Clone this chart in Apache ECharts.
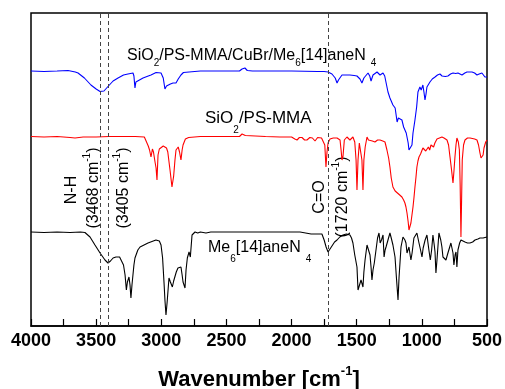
<!DOCTYPE html>
<html>
<head>
<meta charset="utf-8">
<script src="https://cdn.jsdelivr.net/npm/echarts@6/dist/echarts.min.js"></script>
<style>html,body{margin:0;padding:0;background:#fff}#c{width:505px;height:389px}</style>
</head>
<body>
<div id="c"></div>
<script>
// Wavenumber (cm^-1) and offset transmittance (a.u.)
const blueWn = [4000,3900,3800,3716,3660,3639,3590,3540,3500,3470,3455,3440,3409,3370,3332,3290,3256,3217,3210,3202,3195,3180,3140,3100,3079,3040,3025,3002,2985,2972,2960,2948,2930,2910,2895,2887,2870,2849,2830,2818,2700,2500,2400,2380,2373,2365,2358,2350,2340,2300,2000,1800,1750,1720,1690,1665,1651,1640,1613,1580,1552,1520,1498,1475,1460,1445,1430,1413,1400,1390,1375,1360,1344,1330,1321,1310,1298,1285,1275,1260,1245,1222,1205,1199,1190,1180,1165,1153,1140,1120,1114,1105,1099,1090,1076,1068,1053,1040,1030,1015,1005,992,983,976,968,961,938,920,899,880,861,845,838,820,800,780,761,740,723,710,692,670,654,635,615,595,577,560,539,525,516,500];
const blueT  = [255,254.5,255,255.5,254,253,248,241,237,234.5,234,235,239.5,245,248,251,252,253,250,238,244,246,248,250,251,253.5,254,253,248,237,240,241,242,243,242,243,247,251,253.5,254.3,255,255,255,257,259,257,258,256.5,255.5,255,255,254.5,254.5,254,252,248,243,246,251,251,251,250.5,250,247,243,248,249,253,250,245,251,252,254,252,251,252,253,250,249,234,228,221,218,216,204,208,207,206,199,193,191,183,176,176,181,193,206,219,234,239,236,241,233,226,232,239,244,247,249,251,252,250,249,249.5,250,252,253,252.5,253,252,251,253,254,254,254,253,251,252,253,251,249,249];

const redWn = [4000,3900,3800,3700,3662,3600,3500,3400,3300,3200,3130,3117,3100,3090,3079,3068,3060,3048,3040,3033,3025,3015,3002,2985,2972,2960,2950,2933,2918,2905,2895,2887,2870,2860,2849,2840,2833,2815,2790,2700,2500,2400,2380,2373,2365,2355,2340,2200,2089,2000,1975,1958,1940,1920,1900,1882,1860,1840,1820,1800,1770,1759,1745,1736,1728,1720,1705,1680,1651,1628,1620,1613,1605,1595,1575,1552,1529,1515,1505,1498,1490,1480,1467,1460,1452,1445,1435,1421,1410,1398,1380,1360,1340,1321,1300,1283,1268,1255,1245,1235,1222,1205,1191,1170,1153,1140,1130,1122,1114,1105,1099,1092,1084,1076,1068,1060,1053,1045,1038,1030,1022,1010,999,992,980,970,961,950,940,930,923,910,900,884,870,846,830,815,807,795,784,772,761,753,746,738,731,720,712,706,700,695,690,680,669,650,630,615,595,577,565,554,546,539,530,523,510,500];
const redT  = [189.5,189,189.5,188.5,188,189,189,189.5,189.5,189.5,189,188,180,176,169,177,174,164,158,146,171,177,179,180,181,178,174,156,139,150,166,176,179,174,166,176,181,187,188.5,189.5,189.5,189.5,192,193,191,190.5,189.5,189.5,189,189,187,186,188.5,188.5,186,186,188.5,188,185,188.5,188,186,181,159,174,183,187,188,188,186,176,166,170,186,189,186,189,184,166,136,166,183,181,166,136,166,179,189,186,184,185,184,186,186,185,184,176,168,159,148,139,135,133,131,129,126,123,119,113,104,96,97,103,111,119,129,139,149,159,165,169,172,174,178,177,175,176,179,176,181,183,179,183,187,188.5,189,188,187,186,181,169,156,143,156,169,181,188,184,176,141,89,126,166,181,186,188,188,188,187,186,181,173,168,166,171,178,184,186];

const blackWn = [4000,3900,3800,3700,3620,3586,3547,3509,3470,3432,3409,3390,3370,3348,3320,3309,3290,3278,3268,3260,3248,3240,3233,3225,3210,3202,3180,3163,3102,3041,3015,3002,2990,2978,2972,2964,2955,2941,2930,2926,2915,2905,2895,2885,2872,2860,2849,2840,2833,2818,2810,2800,2787,2777,2764,2741,2720,2700,2657,2620,2500,2300,2100,2000,1935,1850,1790,1767,1750,1735,1720,1705,1690,1670,1651,1630,1605,1580,1552,1540,1529,1515,1498,1490,1482,1475,1467,1452,1445,1436,1421,1406,1398,1390,1383,1375,1365,1352,1340,1329,1320,1310,1298,1290,1282,1275,1260,1245,1235,1222,1206,1195,1183,1175,1160,1145,1130,1122,1114,1099,1090,1084,1075,1061,1038,1022,1010,999,990,975,961,946,935,925,915,905,899,892,884,869,855,846,838,815,800,777,761,754,745,738,731,723,710,700,685,669,650,631,610,592,570,554,530,516,500];
const blackT  = [94,93.5,94,93.5,94,93.5,89,81,73,66,63,65,68,69,69,68,61,51,36,44,49,41,28,41,61,68,76,79,83,86,85,81,68,41,26,11,24,48,44,44,39,45,46,54,58,59,59,51,44,38,56,68,74,69,91,94,93,94,93,94,94,94,94,94,94,92,92,92,86,79,74,77,79,84,86,89,91,92,91,88,83,71,59,36,34,34,46,39,54,66,81,83,71,59,46,56,63,76,88,93,83,86,91,69,76,79,86,93,88,81,69,48,26,49,79,89,86,83,73,79,71,66,73,88,93,83,76,69,78,86,91,76,66,76,91,81,74,53,66,93,86,79,69,66,73,83,73,61,71,74,59,76,83,86,85,84,83,83,84,86,87,88,88,88,89];

const markWn = [3468, 3405, 1720];
const xTickMin = 500, xTickMax = 4000, xTickStep = 500;

function pairs(xs, ys) { return xs.map((x, i) => [x, ys[i]]); }

const FF = 'Liberation Sans';
const chart = echarts.init(document.getElementById('c'), null, {renderer: 'canvas'});

function hLabel(x, y, text, fs, subL, subFs) {
  return {
    type: 'text', left: x, top: y, silent: true,
    style: {
      text: text, fill: '#000', fontFamily: FF,
      rich: {
        n: {fontSize: fs, fontFamily: FF, verticalAlign: 'top', fill: '#000'},
        s: {fontSize: subFs, fontFamily: FF, lineHeight: subL, verticalAlign: 'bottom', fill: '#000'},
        s4: {fontSize: subFs, fontFamily: FF, lineHeight: subL, verticalAlign: 'bottom', fill: '#000', padding: [0, 0, 0, 5]}
      }
    }
  };
}
function vLabel(cx, cy, text) {
  return {
    type: 'text', x: cx, y: cy, rotation: Math.PI / 2, silent: true,
    style: {
      text: text, fill: '#000', fontFamily: FF, align: 'center', verticalAlign: 'middle',
      rich: {
        n: {fontSize: 16, fontFamily: FF, lineHeight: 20, verticalAlign: 'bottom', fill: '#000'},
        p: {fontSize: 10, fontFamily: FF, lineHeight: 10, verticalAlign: 'top', fill: '#000'}
      }
    }
  };
}

const option = {
  animation: false,
  backgroundColor: '#fff',
  grid: {left: 31, right: 18, top: 13, bottom: 63, show: true, borderColor: '#000', borderWidth: 1.5, backgroundColor: 'transparent', containLabel: false, outerBoundsMode: 'none'},
  xAxis: {
    type: 'value', inverse: true, min: xTickMin, max: xTickMax, interval: xTickStep,
    axisLine: {show: true, lineStyle: {color: '#000', width: 1.5}},
    axisTick: {show: true, inside: true, length: 7, lineStyle: {color: '#000', width: 1.2}},
    minorTick: {show: true, splitNumber: 2, length: 7, lineStyle: {color: '#000', width: 1.2}},
    splitLine: {show: false},
    axisLabel: {color: '#000', fontFamily: FF, fontWeight: 'bold', fontSize: 18, margin: 6, formatter: v => String(v)},
    name: '{b|Wavenumber [cm}{p|-1}{b|]}',
    nameLocation: 'middle', nameGap: 39,
    nameTextStyle: {
      color: '#000', fontFamily: FF, fontWeight: 'bold', fontSize: 22,
      rich: {
        b: {fontFamily: FF, fontWeight: 'bold', fontSize: 22, lineHeight: 26, verticalAlign: 'bottom', color: '#000'},
        p: {fontFamily: FF, fontWeight: 'bold', fontSize: 13, lineHeight: 14, verticalAlign: 'top', color: '#000'}
      }
    }
  },
  yAxis: {
    type: 'value', min: 0, max: 313, show: false
  },
  series: [
    {type: 'line', data: pairs(blueWn, blueT), showSymbol: false, symbol: 'none', lineStyle: {color: '#0000ff', width: 1.1}, z: 3},
    {type: 'line', data: pairs(redWn, redT), showSymbol: false, symbol: 'none', lineStyle: {color: '#ff0000', width: 1.1}, z: 3},
    {type: 'line', data: pairs(blackWn, blackT), showSymbol: false, symbol: 'none', lineStyle: {color: '#000000', width: 1.1}, z: 3,
      markLine: {
        silent: true, symbol: ['none', 'none'], label: {show: false},
        lineStyle: {color: '#444', type: [4, 3], width: 1},
        data: markWn.map(v => ({xAxis: v}))
      }
    }
  ],
  graphic: [
    hLabel(127, 48, '{n|SiO}{s|2}{n|/PS-MMA/CuBr/Me}{s|6}{n|[14]aneN}{s4|4}', 16, 20, 10),
    hLabel(205, 110, '{n|SiO}{s|2}{n|/PS-MMA}', 17, 25, 10),
    hLabel(208, 240, '{n|Me}{s|6}{n|[14]aneN}{s4|4}', 16, 24, 10),
    vLabel(70, 190, '{n|N-H}'),
    vLabel(92, 188, '{n|(3468 cm}{p|-1}{n|)}'),
    vLabel(122, 188, '{n|(3405 cm}{p|-1}{n|)}'),
    vLabel(318, 197, '{n|C=O}'),
    vLabel(341, 197, '{n|(1720 cm}{p|-1}{n|)}')
  ]
};
chart.setOption(option);
</script>
</body>
</html>
